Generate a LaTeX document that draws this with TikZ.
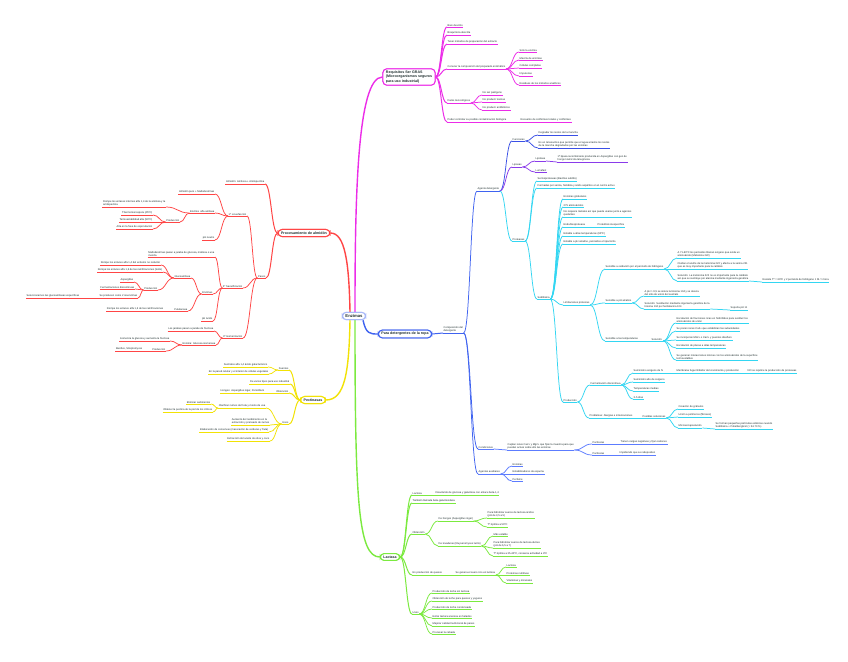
\documentclass[tikz,border=0pt]{standalone}
\usepackage{fontspec}
\setmainfont{Liberation Sans}
\usetikzlibrary{calc}
\definecolor{cmag}{HTML}{EC2CE8}
\definecolor{cred}{HTML}{FF4545}
\definecolor{cyel}{HTML}{F2E205}
\definecolor{cblu}{HTML}{3F63F0}
\definecolor{cfun}{HTML}{3A50E6}
\definecolor{cpur}{HTML}{8A3BEA}
\definecolor{ccya}{HTML}{33D6F2}
\definecolor{cbl2}{HTML}{5C7CFF}
\definecolor{cgrn}{HTML}{7BEA3F}
\definecolor{ctxt}{HTML}{1F2F2F}
\tikzset{
 lbl/.style={inner xsep=0.5pt, inner ysep=0.6pt, font=\fontsize{2.6}{3.1}\selectfont, align=left, text=ctxt},
 ul/.style={line width=0.75pt},
 conn/.style={line width=0.75pt},
 topic/.style={draw, rounded corners=4pt, line width=1pt, fill=white, font=\fontsize{3.6}{4.3}\selectfont\bfseries, inner xsep=3pt, inner ysep=2.2pt, text=ctxt},
 mainln/.style={line width=1.4pt},
}
\newcommand{\nn}[5]{\node[lbl,anchor=south west] (#2) at (#3,#4) {#5};\draw[ul,#1] (#2.south west) -- (#2.south east);}
\newcommand{\nl}[5]{\node[lbl,anchor=south east] (#2) at (#3,#4) {#5};\draw[ul,#1] (#2.south west) -- (#2.south east);}
\newcommand{\lkg}[4][]{\path ($(#3)!0.5!(#4)$) coordinate (m); \draw[conn,#2,#1] (#3) .. controls (m |- #3) and (m |- #4) .. (#4);}
\newcommand{\lk}[3]{\lkg{#1}{#2.south east}{#3.south west}}
\newcommand{\lkl}[3]{\lkg{#1}{#2.south west}{#3.south east}}
\begin{document}
\begin{tikzpicture}[x=1pt,y=-1pt]
\fill[white] (0,0) rectangle (848,661);
\useasboundingbox (0,0) rectangle (848,661);

% ===== central and topic nodes
\node[topic, draw=cblu!45, font=\fontsize{4.2}{5}\selectfont\bfseries] (E) at (354,316) {Enzimas};
\node[topic, draw=cmag, align=left] (R0) at (409,77) {Requisitos Ser GRAS\\(Microorganismos seguros\\para uso industrial)};
\node[topic, draw=cred] (P0) at (304,233) {Procesamiento de almidón};
\node[topic, draw=cyel] (PE) at (313,400) {Pectinasas};
\node[topic, draw=cblu] (D0) at (405,334) {Para detergentes de la ropa};
\node[topic, draw=cgrn] (L0) at (390,557) {Lactasa};

\draw[cmag,mainln] ($(E.north)+(1,0)$) .. controls (355,200) and (357,77) .. (R0.west);
\draw[cred,mainln] ($(E.north)+(-4,0)$) .. controls (349,262) and (345,233) .. (P0.east);
\draw[cyel,mainln] ($(E.south)+(-4,0)$) .. controls (349,372) and (345,400) .. (PE.east);
\draw[cgrn,mainln] ($(E.south)+(1,0)$) .. controls (355,500) and (358,557) .. (L0.west);
\draw[cblu,mainln] ($(E.south east)+(-3,0)$) .. controls (366,334) and (370,334) .. (D0.west);

% ===== Requisitos (magenta)
\nn{cmag}{r1}{447}{27}{Bien descrito}
\nn{cmag}{r2}{447}{35}{Bioquímica descrita}
\nn{cmag}{r3}{447}{44}{Tener métodos de preparación del extracto}
\nn{cmag}{r4}{447}{69}{Conocer la composición del preparado enzimático}
\nn{cmag}{r41}{519}{52}{Sólo la enzima}
\nn{cmag}{r42}{519}{60}{Mezcla de enzimas}
\nn{cmag}{r43}{519}{68}{Células completas}
\nn{cmag}{r44}{519}{76}{Impurezas}
\nn{cmag}{r45}{519}{85}{Residuos de los métodos analíticos}
\nn{cmag}{r5}{447}{103}{Datos toxicológicos}
\nn{cmag}{r51}{482}{95}{No ser patógeno}
\nn{cmag}{r52}{482}{102}{No producir toxinas}
\nn{cmag}{r53}{482}{110}{No producir antibióticos}
\nn{cmag}{r6}{447}{122}{Poder controlar su posible contaminación biológica}
\nn{cmag}{r61}{520}{122}{Recuento de coliformes totales y coliformes}
\foreach \c in {r1,r2,r3,r4,r5,r6}{\lkg[line width=1pt]{cmag}{R0.east}{\c.south west}}
\foreach \c in {r41,r42,r43,r44,r45}{\lk{cmag}{r4}{\c}}
\foreach \c in {r51,r52,r53}{\lk{cmag}{r5}{\c}}
\lk{cmag}{r6}{r61}

% ===== Procesamiento de almidon (red, left)
\nl{cred}{a1}{265}{184}{Almidón: Amilosa + Amilopectina}
\nl{cred}{a2}{247}{216}{1º Licuefacción}
\nl{cred}{a21}{215}{194}{Almidón puro + Maltodextrinas}
\nl{cred}{a22}{215}{213}{Enzima: alfa amilasa}
\nl{cred}{a221}{166}{207}{Rompe los enlaces internos alfa 1,4 de la amilosa y la\\amilopectina}
\nl{cred}{a222}{180}{222}{Producción}
\nl{cred}{a2221}{153}{215}{Thermomonospora (45ºC)}
\nl{cred}{a2222}{153}{222}{Termoestabilidad alta (90ºC)}
\nl{cred}{a2223}{153}{229}{Alta en la fase de esporulación}
\nl{cred}{a23}{215}{240}{pH neutro}
\nl{cred}{a3}{266}{278}{Pasos}
\nl{cred}{a31}{243}{288}{2º Sacarificación}
\nl{cred}{a311}{215}{257}{Maltodextrinas pasan a jarabe de glucosa, maltosa o una\\mezcla}
\nl{cred}{a312}{213}{294}{Enzimas}
\nl{cred}{a3121}{191}{278}{Glucoamilasa}
\nl{cred}{g1}{161}{265}{Rompe los enlaces alfa 1,4 del extremo no reductor}
\nl{cred}{g2}{163}{272}{Rompe los enlaces alfa 1,6 de las ramificaciones (lento)}
\nl{cred}{g3}{158}{290}{Producción}
\nl{cred}{g31}{134}{282}{Aspergillus}
\nl{cred}{g32}{135}{289}{Fermentaciones discontinuas}
\nl{cred}{g33}{138}{298}{Se producen como 2 isoenzimas}
\nl{cred}{g331}{80}{298}{Seleccionamos las glucoamilasas específicas}
\nl{cred}{a3122}{188}{311}{Pululanasa}
\nl{cred}{pu1}{164}{311}{Rompe los enlaces alfa 1,6 de las ramificaciones}
\nl{cred}{a313}{213}{321}{pH ácido}
\nl{cred}{a32}{243}{338}{3º Isomerización}
\nl{cred}{i1}{214}{331}{Los jarabes pasan a jarabe de fructosa}
\nl{cred}{i2}{216}{345}{Enzima: Glucosa isomerasa}
\nl{cred}{i21}{170}{341}{Isomeriza la glucosa y aumenta la fructosa}
\nl{cred}{i22}{166}{351}{Producción}
\nl{cred}{i221}{143}{351}{Bacillus, Streptomyces}
\foreach \c in {a1,a3}{\lkg[line width=1pt]{cred}{P0.west}{\c.south east}}
\foreach \c in {a2,a31,a32}{\lkl{cred}{a3}{\c}}
\foreach \c in {a21,a22,a23}{\lkl{cred}{a2}{\c}}
\foreach \c in {a221,a222}{\lkl{cred}{a22}{\c}}
\foreach \c in {a2221,a2222,a2223}{\lkl{cred}{a222}{\c}}
\foreach \c in {a311,a312,a313}{\lkl{cred}{a31}{\c}}
\foreach \c in {a3121,a3122}{\lkl{cred}{a312}{\c}}
\foreach \c in {g1,g2,g3}{\lkl{cred}{a3121}{\c}}
\foreach \c in {g31,g32,g33}{\lkl{cred}{g3}{\c}}
\lkl{cred}{g33}{g331}
\lkl{cred}{a3122}{pu1}
\foreach \c in {i1,i2}{\lkl{cred}{a32}{\c}}
\foreach \c in {i21,i22}{\lkl{cred}{i2}{\c}}
\lkl{cred}{i22}{i221}

% ===== Pectinasas (yellow, left)
\nl{cyel}{p1}{289}{370}{Fuentes}
\nl{cyel}{p11}{268}{367}{Sustratos alfa 1,4 ácido galacturónico}
\nl{cyel}{p12}{269}{374}{En la pared celular y el interior de células vegetales}
\nl{cyel}{p2}{290}{384}{De varios tipos para uso industrial}
\nl{cyel}{p3}{289}{393}{Obtención}
\nl{cyel}{p31}{265}{393}{Hongos: Aspergillus niger, Penicillium}
\nl{cyel}{p4}{289}{424}{Usos}
\nl{cyel}{p41}{266}{408}{Clarificar zumos de fruta y mosto de uva}
\nl{cyel}{p411}{211}{404}{Eliminar sedimentos}
\nl{cyel}{p412}{213}{412}{Obtener la pectina de la piel de los cítricos}
\nl{cyel}{p42}{270}{425}{Aumento del rendimiento en la\\extracción y prensado de zumos}
\nl{cyel}{p43}{269}{432}{Elaboración de conservas (maceración de verduras y fruta)}
\nl{cyel}{p44}{270}{441}{Extracción del aceite de oliva y coco}
\foreach \c in {p1,p2,p3,p4}{\lkg[line width=1pt]{cyel}{PE.west}{\c.south east}}
\foreach \c in {p11,p12}{\lkl{cyel}{p1}{\c}}
\lkl{cyel}{p3}{p31}
\foreach \c in {p41,p42,p43,p44}{\lkl{cyel}{p4}{\c}}
\foreach \c in {p411,p412}{\lkl{cyel}{p41}{\c}}

% ===== Detergentes (blue)
\nn{cblu}{dc}{443}{333}{Composición del\\detergente}
\draw[conn,cblu,line width=1pt] (D0.east) -- (dc.south west);
\nn{cblu}{ag}{477}{191}{Agente detergente}
\nn{cfun}{fu}{512}{141}{Funciones}
\nn{cfun}{fu1}{538}{135}{Degradar los restos de la mancha}
\nn{cfun}{fu2}{538}{148}{Es un tensoactivo que permite que el agua arrastre los restos\\de la mancha degradados por las enzimas}
\nn{cpur}{li}{512}{167}{Lipasas}
\nn{cpur}{li1}{535}{161}{Lipolase}
\nn{cpur}{li11}{557}{162}{1ª lipasa recombinante producida en Aspergillus con gen de\\hongo Humicola lanuginosa}
\nn{cpur}{li2}{535}{172}{Lumafast}
\nn{ccya}{pr}{512}{241}{Proteasas}
\nn{ccya}{pr1}{537}{181}{Serinoproteasas (Bacillus subtilis)}
\nn{ccya}{pr2}{537}{188}{Formadas por serina, histidina y ácido aspártico en el centro activo}
\nn{ccya}{st}{537}{299}{Subtilisina}
\nn{ccya}{s1}{563}{199}{Enzimas globulares}
\nn{ccya}{s2}{563}{207}{275 aminoácidos}
\nn{ccya}{s3}{563}{217}{No requiere metales así que puede usarse junto a agentes\\quelantes}
\nn{ccya}{s4}{563}{227}{Endo/Exoproteasa}
\nn{ccya}{s41}{597}{227}{Proteólisis inespecífica}
\nn{ccya}{s5}{563}{236}{Estable a altas temperaturas (60ºC)}
\nn{ccya}{s6}{563}{244}{Estable a pH alcalino, peróxidos e hipoclorito}
\nn{ccya}{s7}{563}{305}{Limitaciones proteicas}
\nn{ccya}{ox}{605}{269}{Sensible a oxidación por el peróxido de hidrógeno}
\nn{ccya}{ox1}{677}{258}{A 71-60ºC los peróxidos liberan oxígeno que oxida un\\aminoácido (Metionina 222)}
\nn{ccya}{ox2}{677}{269}{Oxidan el azufre de la metionina 222 y afecta a la serina 221\\que es muy importante para la catálisis}
\nn{ccya}{ox3}{677}{281}{Solución: La metionina 222 no es importante para la catálisis\\así que se sustituye por alanina mediante ingeniería genética}
\nn{ccya}{ox31}{762}{282}{Resiste Tª = 60ºC y 2 peróxido de hidrógeno 1 M / 1 hora}
\nn{ccya}{ph}{605}{303}{Sensible a pH alcalino}
\nn{ccya}{ph1}{644}{296}{A pH > 9,5 se ioniza la tirosina 104 y se desvía\\del sitio de unión del sustrato}
\nn{ccya}{ph2}{644}{309}{Solución: Sustitución mediante ingeniería genética de la\\tirosina 104 por fenilalanina 104}
\nn{ccya}{ph21}{730}{310}{Soporta pH 11}
\nn{ccya}{te}{605}{341}{Sensible a las temperaturas}
\nn{ccya}{te1}{651}{341}{Solución:}
\nn{ccya}{t1}{676}{323}{Escalación de fracciones ricas en hidrófobos para sustituir los\\aminoácidos de unión}
\nn{ccya}{t2}{676}{331}{Se ponen iones Ca2+ que estabilizan las subunidades}
\nn{ccya}{t3}{676}{340}{Se incorporan Mn2+ o Ca2+ y puentes disulfuro}
\nn{ccya}{t4}{676}{348}{Escalación de placas a altas temperaturas}
\nn{ccya}{t5}{676}{360}{Se generan interacciones iónicas con los aminoácidos de la superficie\\termoestables}
\nn{ccya}{pd}{563}{402}{Producción}
\nn{ccya}{pd1}{590}{385}{Fermentación discontinua}
\nn{ccya}{pd11}{633}{373}{Suministro exógeno de N}
\nn{ccya}{pd111}{676}{373}{Membrana fuga inhibidor del crecimiento y producción}
\nn{ccya}{pd1111}{747}{373}{NO se reprime la producción de proteasas}
\nn{ccya}{pd12}{633}{382}{Suministro alto de oxígeno}
\nn{ccya}{pd13}{633}{391}{Temperaturas medias}
\nn{ccya}{pd14}{633}{399}{3-5 días}
\nn{ccya}{pd2}{589}{418}{Problemas: Alergias e intoxicaciones}
\nn{ccya}{pd21}{642}{418}{Posibles soluciones}
\nn{ccya}{pd211}{678}{409}{Creación de gránulos}
\nn{ccya}{pd212}{678}{417}{Unión a polímeros (fibrosos)}
\nn{ccya}{pd213}{678}{428}{Microencapsulación}
\nn{ccya}{pd2131}{715}{429}{Se forman pequeñas partículas estéricas cuando\\Subtilisina + Polietilenglicol (> 54-70 \%)}
\nn{cbl2}{co}{478}{449}{Condiciones}
\nn{cbl2}{co1}{507}{450}{Captan iones Ca2+ y Mg2+ que fijan la muestra para que\\puedan actuar sobre ello las enzimas}
\nn{cbl2}{co11}{592}{444}{Partículas}
\nn{cbl2}{co111}{620}{444}{Tienen cargas negativas y fijan cationes}
\nn{cbl2}{co12}{592}{455}{Partículas}
\nn{cbl2}{co121}{619}{455}{Impidiendo que se redepositen}
\nn{cbl2}{au}{478}{474}{Agentes auxiliares}
\nn{cbl2}{au1}{512}{466}{Enzimas}
\nn{cbl2}{au2}{512}{474}{Estabilizadores de espuma}
\nn{cbl2}{au3}{512}{481}{Perfume}
\foreach \c in {ag,co,au}{\lk{cblu}{dc}{\c}}
\lk{cfun}{ag}{fu}
\lk{cpur}{ag}{li}
\lk{ccya}{ag}{pr}
\foreach \c in {fu1,fu2}{\lk{cfun}{fu}{\c}}
\foreach \c in {li1,li2}{\lk{cpur}{li}{\c}}
\lk{cpur}{li1}{li11}
\foreach \c in {pr1,pr2,st}{\lk{ccya}{pr}{\c}}
\foreach \c in {s1,s2,s3,s4,s5,s6,s7,pd}{\lk{ccya}{st}{\c}}
\lk{ccya}{s4}{s41}
\foreach \c in {ox,ph,te}{\lk{ccya}{s7}{\c}}
\foreach \c in {ox1,ox2,ox3}{\lk{ccya}{ox}{\c}}
\lk{ccya}{ox3}{ox31}
\foreach \c in {ph1,ph2}{\lk{ccya}{ph}{\c}}
\lk{ccya}{ph2}{ph21}
\lk{ccya}{te}{te1}
\foreach \c in {t1,t2,t3,t4,t5}{\lk{ccya}{te1}{\c}}
\foreach \c in {pd1,pd2}{\lk{ccya}{pd}{\c}}
\foreach \c in {pd11,pd12,pd13,pd14}{\lk{ccya}{pd1}{\c}}
\lk{ccya}{pd11}{pd111}
\lk{ccya}{pd111}{pd1111}
\lk{ccya}{pd2}{pd21}
\foreach \c in {pd211,pd212,pd213}{\lk{ccya}{pd21}{\c}}
\lk{ccya}{pd213}{pd2131}
\lk{cbl2}{co}{co1}
\foreach \c in {co11,co12}{\lk{cbl2}{co1}{\c}}
\lk{cbl2}{co11}{co111}
\lk{cbl2}{co12}{co121}
\foreach \c in {au1,au2,au3}{\lk{cbl2}{au}{\c}}

% ===== Lactasa (green)
\nn{cgrn}{l1}{412}{495}{Lactosa}
\nn{cgrn}{l11}{435}{495}{Disacárido de glucosa y galactosa con enlace beta-1,4}
\nn{cgrn}{l2}{412}{503}{También llamada beta-galactosidasa}
\nn{cgrn}{l3}{412}{534}{Obtención}
\nn{cgrn}{l31}{438}{521}{De hongos (Aspergillus niger)}
\nn{cgrn}{l311}{487}{518}{Para hidrolizar sueros de lactosa ácidos\\(pH de 3,5 a 5)}
\nn{cgrn}{l312}{487}{527}{Tª óptima a 50ºC}
\nn{cgrn}{l32}{438}{546}{De levaduras (Kluyveromyces lactis)}
\nn{cgrn}{l321}{493}{536}{Más estable}
\nn{cgrn}{l322}{493}{548}{Para hidrolizar sueros de lactosa dulces\\(pH de 6,5 a 7)}
\nn{cgrn}{l323}{493}{556}{Tª óptima a 35-40ºC, conserva actividad a 4ºC}
\nn{cgrn}{l4}{412}{575}{En producción de quesos}
\nn{cgrn}{l41}{455}{575}{Se genera el suero rico en lactosa}
\nn{cgrn}{l411}{506}{567}{Lactosa}
\nn{cgrn}{l412}{506}{575}{Proteínas nutritivas}
\nn{cgrn}{l413}{506}{583}{Vitaminas y minerales}
\nn{cgrn}{l5}{412}{614}{Usos}
\nn{cgrn}{l51}{432}{593}{Producción de leche sin lactosa}
\nn{cgrn}{l52}{432}{601}{Obtención de leche para quesos y yogures}
\nn{cgrn}{l53}{432}{609}{Producción de leche condensada}
\nn{cgrn}{l54}{432}{618}{Evitar textura arenosa en helados}
\nn{cgrn}{l55}{432}{626}{Mejorar calidad nutricional de panes}
\nn{cgrn}{l56}{432}{634}{Procesar la cebada}
\foreach \c in {l1,l2,l3,l4,l5}{\lkg[line width=1pt]{cgrn}{L0.east}{\c.south west}}
\lk{cgrn}{l1}{l11}
\foreach \c in {l31,l32}{\lk{cgrn}{l3}{\c}}
\foreach \c in {l311,l312}{\lk{cgrn}{l31}{\c}}
\foreach \c in {l321,l322,l323}{\lk{cgrn}{l32}{\c}}
\lk{cgrn}{l4}{l41}
\foreach \c in {l411,l412,l413}{\lk{cgrn}{l41}{\c}}
\foreach \c in {l51,l52,l53,l54,l55,l56}{\lk{cgrn}{l5}{\c}}

% redraw topic boxes on top of lines
\node[topic, draw=cblu!45, font=\fontsize{4.2}{5}\selectfont\bfseries] at (E) {Enzimas};
\node[topic, draw=cmag, align=left] at (R0) {Requisitos Ser GRAS\\(Microorganismos seguros\\para uso industrial)};
\node[topic, draw=cred] at (P0) {Procesamiento de almidón};
\node[topic, draw=cyel] at (PE) {Pectinasas};
\node[topic, draw=cblu] at (D0) {Para detergentes de la ropa};
\node[topic, draw=cgrn] at (L0) {Lactasa};
\end{tikzpicture}
\end{document}
